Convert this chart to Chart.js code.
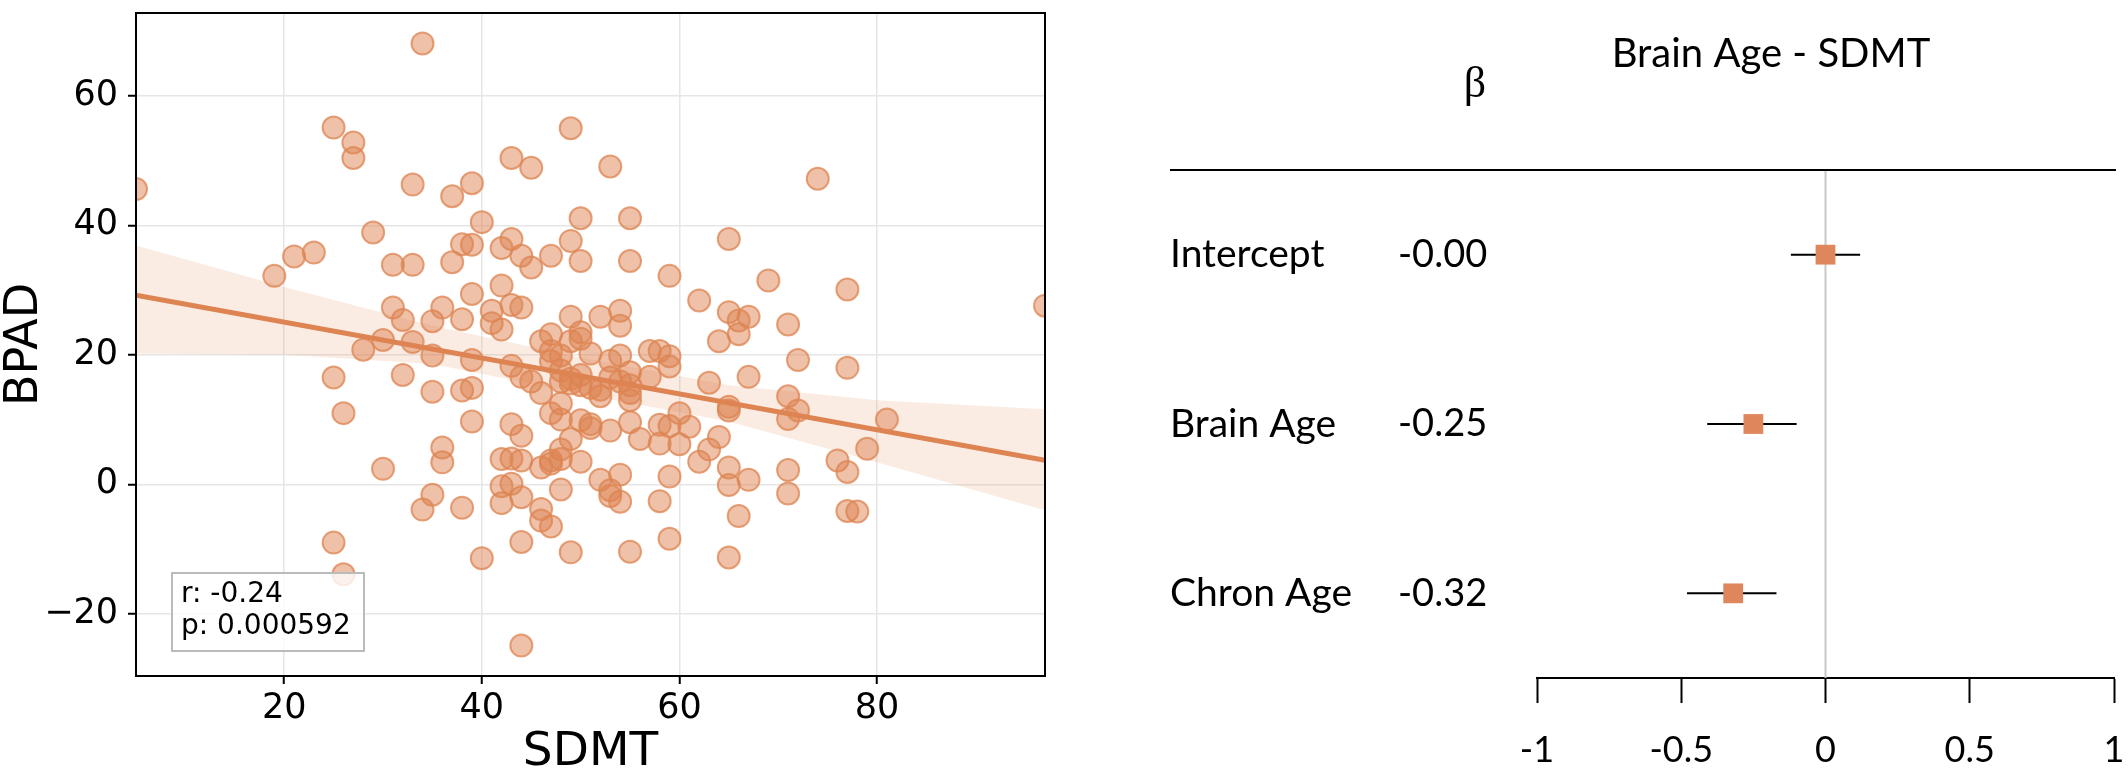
<!DOCTYPE html>
<html>
<head>
<meta charset="utf-8">
<script src="https://cdn.jsdelivr.net/npm/chart.js@4.4.1/dist/chart.umd.min.js"></script>
<style>
  body { margin: 0; background: #fff; overflow: hidden; }
  #left { position: absolute; left: 0; top: 0; width: 1100px; height: 771px; }
  #right { position: absolute; left: 1150px; top: 0; width: 978px; height: 771px; }
  canvas { display: block; }
</style>
</head>
<body>
<div id="left"><canvas id="scatterChart"></canvas></div>
<div id="right"><canvas id="forestChart"></canvas></div>
<script>
// scatter: SDMT vs BPAD
const sdmt = [34,25,27,27,49,43,45,53,74,5, 33,39,37,40,50,55,29,65,38,39,
  43,49,21,23,42,44,47,50,55,31, 33,37,45,19,59,42,69,77,97,62,
  39,31,36,41,43,44,32,35,38,41, 42,49,52,54,54,65,66,67,71,66,
  64,50,47,46,49,50,30,33,28,35, 39,43,47,48,47,51,53,54,57,58,
  59,59,72,77,25,32,44,45,48,49, 50,49,48,50,53,55,54,57,55,63,
  67,35,38,39,46,52,52,55,55,51, 71,65,65,72,26,48,47,60,71,81,
  39,43,48,50,51,51,53,55,58,59, 61,44,49,56,58,60,64,36,63,79,
  48,36,42,43,44,47,48,47,50,62, 76,30,46,65,71,77,54,59,67,52,
  65,42,43,48,35,53,53,44,42,54, 58,71,34,38,77,78,46,46,66,47,
  59,25,44,49,55,40,65,26,44];
const bpad = [68.1,55.1,52.8,50.4,55.0,50.4,48.9,49.1,47.2,45.6, 46.3,46.5,44.5,40.5,41.1,41.1,38.9,37.9,37.1,37.0,
  37.9,37.6,35.2,35.8,36.5,35.3,35.3,34.5,34.5,33.9, 33.9,34.3,33.5,32.2,32.2,30.7,31.5,30.1,27.6,28.4,
  29.4,27.3,27.3,26.8,27.7,27.3,25.4,25.2,25.5,24.9, 23.9,25.9,25.9,26.8,24.5,26.6,25.3,25.9,24.7,23.2,
  22.1,23.5,23.2,22.1,22.1,22.5,22.3,22.0,20.8,19.9, 19.2,18.3,20.6,19.9,19.0,20.2,19.1,19.9,20.6,20.6,
  19.8,18.2,19.2,18.0,16.5,16.9,16.6,15.9,17.6,16.3, 16.9,15.6,15.9,15.3,16.5,17.3,15.9,16.6,15.3,15.7,
  16.6,14.3,14.5,14.9,14.1,14.6,13.6,14.1,13.0,14.9, 13.6,12.0,11.4,11.4,11.0,12.5,11.0,11.0,10.1,10.0,
  9.7,9.3,10.0,9.9,9.3,8.7,8.3,9.6,9.2,9.0, 8.9,7.5,7.0,7.0,6.3,6.2,7.3,5.7,5.4,5.5,
  5.4,3.4,3.9,4.0,3.7,3.7,3.9,3.2,3.5,3.5, 3.7,2.4,2.6,2.6,2.2,1.9,1.5,1.2,0.7,0.7,
  -0.1,-0.3,0.1,-0.8,-1.6,-0.9,-1.8,-2.0,-2.9,-2.7, -2.6,-1.4,-3.9,-3.6,-4.1,-4.2,-3.8,-5.6,-4.9,-6.5,
  -8.4,-9.0,-8.9,-10.5,-10.4,-11.4,-11.3,-13.9,-24.9];

// regression line and its confidence band
const fitX = [5, 97];
const fitY = [29.2, 3.7];
const bandX = [5, 20, 35, 50, 65, 80, 97];
const bandUpper = [36.9, 30.5, 24.5, 19.6, 15.3, 13.0, 11.6];
const bandLower = [20.2, 20.0, 18.6, 14.0, 9.7, 3.4, -4.0];
const statLines = ['r: -0.24', 'p: 0.000592'];

// forest plot
const rowLabels = ['Intercept', 'Brain Age', 'Chron Age'];
const betaText = ['-0.00', '-0.25', '-0.32'];
const betas = [0.0, -0.25, -0.32];
const ciLow = [-0.12, -0.41, -0.48];
const ciHigh = [0.12, -0.10, -0.17];
const betaTicks = [-1, -0.5, 0, 0.5, 1];

const orange = 'rgb(221,132,82)';
const minus = v => (v < 0 ? '\u2212' + Math.abs(v) : String(v));
// keep tick labels from pushing the plot area around
const noPad = s => { s.paddingLeft = 0; s.paddingRight = 0; s.paddingTop = 0; s.paddingBottom = 0; };

const frame = {
  id: 'frame',
  afterDatasetsDraw(chart) {
    const { ctx, chartArea: a } = chart;
    ctx.save();
    ctx.strokeStyle = '#000';
    ctx.lineWidth = 2;
    ctx.strokeRect(a.left, a.top, a.right - a.left, a.bottom - a.top);
    // stats box, lower left
    ctx.font = '28px "DejaVu Sans"';
    ctx.textBaseline = 'middle';
    const bx = a.left + 36, by = a.bottom - 103, bw = 192, bh = 78;
    ctx.fillStyle = 'rgba(255,255,255,0.8)';
    ctx.fillRect(bx, by, bw, bh);
    ctx.strokeStyle = '#bbb';
    ctx.strokeRect(bx, by, bw, bh);
    ctx.fillStyle = '#000';
    statLines.forEach((t, i) => ctx.fillText(t, bx + 9, by + 22 + i * 32));
    ctx.restore();
  }
};

new Chart(document.getElementById('scatterChart'), {
  type: 'scatter',
  data: {
    datasets: [
      { type: 'line', data: bandX.map((x, i) => ({ x, y: bandUpper[i] })), borderWidth: 0,
        pointRadius: 0, fill: false, order: 2 },
      { type: 'line', data: bandX.map((x, i) => ({ x, y: bandLower[i] })), borderWidth: 0,
        pointRadius: 0, fill: '-1', backgroundColor: 'rgba(221,132,82,0.16)', order: 2 },
      { data: sdmt.map((x, i) => ({ x, y: bpad[i] })), pointRadius: 11,
        backgroundColor: 'rgba(221,132,82,0.5)', borderColor: 'rgba(221,132,82,0.75)',
        borderWidth: 2, order: 1, clip: 0 },
      { type: 'line', data: fitX.map((x, i) => ({ x, y: fitY[i] })), borderColor: orange,
        borderWidth: 5, pointRadius: 0, fill: false, order: 0 }
    ]
  },
  options: {
    responsive: true,
    maintainAspectRatio: false,
    animation: false,
    events: [],
    layout: { padding: { top: 3, right: 55, left: 0, bottom: 0 } },
    plugins: { legend: { display: false }, tooltip: { enabled: false } },
    scales: {
      x: {
        type: 'linear', min: 5, max: 97,
        afterFit: s => { s.height = 95; noPad(s); },
        ticks: { stepSize: 20, includeBounds: false, color: '#000', padding: 4,
          font: { family: 'DejaVu Sans', size: 35 } },
        grid: { color: '#e6e6e6', lineWidth: 1.5, tickColor: '#000', tickLength: 8, tickWidth: 2 },
        border: { color: '#000', width: 2 },
        title: { display: true, text: 'SDMT', color: '#000', padding: { bottom: -5 },
          font: { family: 'DejaVu Sans', size: 47, lineHeight: 1 } }
      },
      y: {
        type: 'linear', min: -29.6, max: 72.8,
        afterFit: s => { s.width = 136; noPad(s); },
        ticks: { stepSize: 20, includeBounds: false, color: '#000', padding: 10,
          font: { family: 'DejaVu Sans', size: 35 }, callback: v => minus(v) },
        grid: { color: '#e6e6e6', lineWidth: 1.5, tickColor: '#000', tickLength: 8, tickWidth: 2 },
        border: { color: '#000', width: 2 },
        title: { display: true, text: 'BPAD', color: '#000', padding: { top: 2 },
          font: { family: 'DejaVu Sans', size: 46, lineHeight: 1 } }
      }
    }
  },
  plugins: [frame]
});

const forestDecor = {
  id: 'forestDecor',
  beforeDatasetsDraw(chart) {
    const { ctx, chartArea: a, scales: { x, y } } = chart;
    ctx.save();
    const x0 = x.getPixelForValue(0);
    ctx.strokeStyle = '#c8c8c8';
    ctx.lineWidth = 2;
    ctx.beginPath(); ctx.moveTo(x0, a.top); ctx.lineTo(x0, a.bottom); ctx.stroke();
    ctx.strokeStyle = '#000';
    rowLabels.forEach((_, i) => {
      const py = y.getPixelForValue(i);
      ctx.beginPath();
      ctx.moveTo(x.getPixelForValue(ciLow[i]), py);
      ctx.lineTo(x.getPixelForValue(ciHigh[i]), py);
      ctx.stroke();
    });
    ctx.restore();
  },
  afterDraw(chart) {
    const { ctx, chartArea: a, scales: { y } } = chart;
    ctx.save();
    ctx.strokeStyle = '#000';
    ctx.lineWidth = 2;
    ctx.beginPath(); ctx.moveTo(20, a.top); ctx.lineTo(a.right + 2, a.top); ctx.stroke();
    ctx.fillStyle = '#000';
    ctx.textBaseline = 'middle';
    ctx.textAlign = 'center';
    ctx.font = '40px Lato';
    ctx.fillText('Brain Age - SDMT', 621, 54);
    ctx.font = '44px "Liberation Serif"';
    ctx.fillText('\u03B2', 325, 85);
    ctx.textAlign = 'left';
    rowLabels.forEach((t, i) => {
      const py = y.getPixelForValue(i);
      ctx.font = '39px Lato';
      ctx.fillText(t, 20, py);
      ctx.font = '38px Lato';
      ctx.fillText(betaText[i], 248, py);
    });
    ctx.restore();
  }
};

new Chart(document.getElementById('forestChart'), {
  type: 'scatter',
  data: {
    datasets: [{
      data: betas.map((b, i) => ({ x: b, y: i })),
      pointStyle: 'rect', pointRadius: 14, borderWidth: 0,
      backgroundColor: 'rgb(224,134,92)'
    }]
  },
  options: {
    responsive: true,
    maintainAspectRatio: false,
    animation: false,
    events: [],
    layout: { padding: { top: 170, right: 13, left: 387, bottom: 0 } },
    plugins: { legend: { display: false }, tooltip: { enabled: false } },
    scales: {
      x: {
        type: 'linear', min: -1, max: 1,
        afterFit: s => { s.height = 93; noPad(s); },
        afterBuildTicks: s => { s.ticks = betaTicks.map(value => ({ value })); },
        ticks: { color: '#000', padding: 26, callback: v => String(v),
          font: { family: 'Lato', size: 36 } },
        grid: { drawOnChartArea: false, tickColor: '#000', tickLength: 25, tickWidth: 2 },
        border: { color: '#000', width: 2 }
      },
      y: { type: 'linear', min: -0.5, max: 2.5, reverse: true, display: false }
    }
  },
  plugins: [forestDecor]
});
</script>
</body>
</html>
